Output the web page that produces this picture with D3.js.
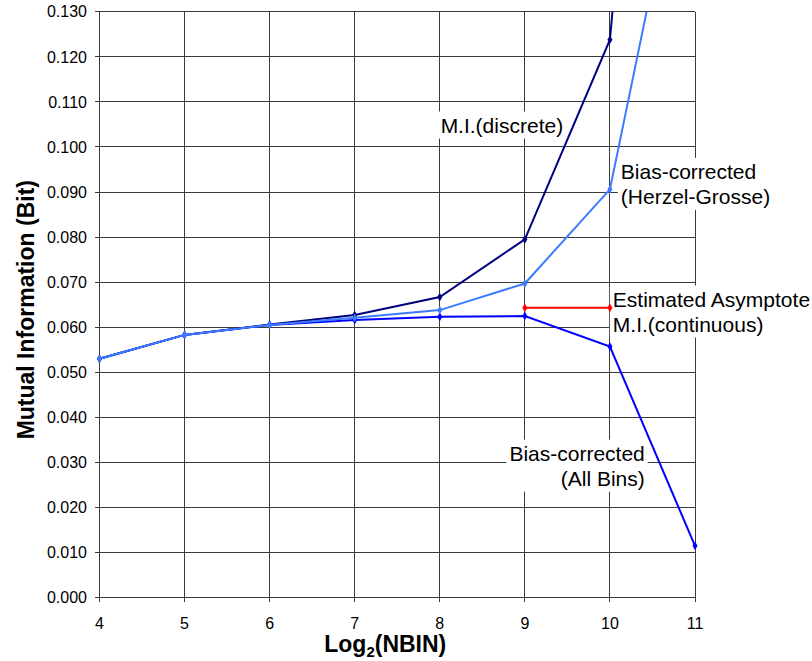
<!DOCTYPE html>
<html lang="en">
  <head>
    <meta charset="UTF-8" />
    <title>Mutual Information vs Log2(NBIN)</title>
    <script src="https://d3js.org/d3.v7.min.js"></script>
    <style>
      body {
        margin: 0;
        background: #ffffff;
        font-family: "Liberation Sans", Arial, sans-serif;
      }
      .grid line {
        stroke: #3a3a3a;
        stroke-width: 1;
        shape-rendering: crispEdges;
      }
      .tick-label {
        font-size: 16px;
        fill: #000;
      }
      .note {
        font-size: 21px;
        fill: #000;
      }
      .axis-title {
        font-size: 23px;
        font-weight: bold;
        fill: #000;
      }
    </style>
  </head>
  <body>
    <div id="chart"></div>

    <script>
      // Data
      const nbins = [4, 5, 6, 7, 8, 9, 10, 11];
      const miDiscrete = [0.053, 0.0583, 0.0606, 0.0627, 0.0667, 0.0795, 0.1238, 0.335];
      const miHerzel = [0.053, 0.0583, 0.0605, 0.0621, 0.0638, 0.0697, 0.0906, 0.182];
      const miAllBins = [0.053, 0.0583, 0.0605, 0.0616, 0.0623, 0.0625, 0.0557, 0.0115];
      const asymptoteX = [9, 10];
      const asymptoteY = [0.0643, 0.0643];

      const xTicks = [4, 5, 6, 7, 8, 9, 10, 11];
      const yTicks = [0, 0.01, 0.02, 0.03, 0.04, 0.05, 0.06, 0.07, 0.08, 0.09, 0.1, 0.11, 0.12, 0.13];

      const W = 812, H = 661;
      const margin = { top: 11.7, right: 117, bottom: 63.3, left: 99.5 };
      const width = W - margin.left - margin.right;
      const height = H - margin.top - margin.bottom;

      const svg = d3.select("#chart").append("svg")
        .attr("width", W).attr("height", H);

      const x = d3.scaleLinear().domain([4, 11]).range([margin.left, margin.left + width]);
      const y = d3.scaleLinear().domain([0, 0.13]).range([margin.top + height, margin.top]);

      // grid
      const grid = svg.append("g").attr("class", "grid");
      grid.selectAll(".h").data(yTicks).enter().append("line")
        .attr("x1", x(4) - 5).attr("x2", x(11))
        .attr("y1", d => y(d)).attr("y2", d => y(d));
      grid.selectAll(".v").data(xTicks).enter().append("line")
        .attr("x1", d => x(d)).attr("x2", d => x(d))
        .attr("y1", y(0.13)).attr("y2", y(0) + 4);

      // tick labels
      svg.append("g").selectAll("text").data(yTicks).enter().append("text")
        .attr("class", "tick-label")
        .attr("x", x(4) - 12.5)
        .attr("y", d => y(d))
        .attr("dy", "0.36em")
        .attr("text-anchor", "end")
        .text(d3.format(".3f"));

      svg.append("g").selectAll("text").data(xTicks).enter().append("text")
        .attr("class", "tick-label")
        .attr("x", d => x(d))
        .attr("y", y(0) + 31)
        .attr("text-anchor", "middle")
        .text(d => d);

      // axis titles
      svg.append("text")
        .attr("class", "axis-title")
        .attr("transform", `translate(34,${(y(0) + y(0.13)) / 2 + 5})rotate(-90)`)
        .attr("text-anchor", "middle")
        .text("Mutual Information (Bit)");

      const xt = svg.append("text")
        .attr("class", "axis-title")
        .attr("x", x(7.5) - 12)
        .attr("y", 652)
        .attr("text-anchor", "middle");
      xt.append("tspan").text("Log");
      xt.append("tspan").attr("font-size", "15px").attr("dy", 5).text("2");
      xt.append("tspan").attr("dy", -5).text("(NBIN)");

      // annotations (white boxes over the grid)
      const notes = [
        { lines: ["M.I.(discrete)"], at: [8.01, 0.1032], anchor: "start" },
        { lines: ["Bias-corrected", "(Herzel-Grosse)"], at: [10.128, 0.0929], anchor: "start" },
        { lines: ["Estimated Asymptote", "M.I.(continuous)"], at: [10.034, 0.0646], anchor: "start" },
        { lines: ["Bias-corrected", "(All Bins)"], at: [10.41, 0.0304], anchor: "end" }
      ];
      notes.forEach(n => {
        const g = svg.append("g");
        const rect = g.append("rect").attr("fill", "#fff");
        const t = g.append("text")
          .attr("class", "note")
          .attr("text-anchor", n.anchor);
        n.lines.forEach((l, i) => {
          t.append("tspan")
            .attr("x", x(n.at[0]))
            .attr("y", y(n.at[1]) + i * 25)
            .text(l);
        });
        const bb = t.node().getBBox();
        rect.attr("x", bb.x - 3).attr("y", bb.y - 2)
          .attr("width", bb.width + 6).attr("height", bb.height + 4);
      });

      // series (clipped at the top of the plot only)
      svg.append("clipPath").attr("id", "plot")
        .append("rect")
        .attr("x", x(4) - 10).attr("y", y(0.13))
        .attr("width", x(11) - x(4) + 20).attr("height", y(0) - y(0.13) + 10);

      const plot = svg.append("g").attr("clip-path", "url(#plot)");
      const line = d3.line().x(d => x(d[0])).y(d => y(d[1]));
      const diamond = d3.symbol().type(d3.symbolDiamond).size(22);

      const series = [
        { xs: nbins, ys: miDiscrete, color: "#000080" },
        { xs: nbins, ys: miAllBins, color: "#0000ff" },
        { xs: nbins, ys: miHerzel, color: "#3d7bff" },
        { xs: asymptoteX, ys: asymptoteY, color: "#ff0000" }
      ];
      series.forEach(s => {
        const pts = s.xs.map((v, i) => [v, s.ys[i]]);
        plot.append("path")
          .attr("d", line(pts))
          .attr("fill", "none")
          .attr("stroke", s.color)
          .attr("stroke-width", 2);
        plot.selectAll(null).data(pts).enter().append("path")
          .attr("d", diamond)
          .attr("transform", d => `translate(${x(d[0])},${y(d[1])})`)
          .attr("fill", s.color);
      });
    </script>
  </body>
</html>
